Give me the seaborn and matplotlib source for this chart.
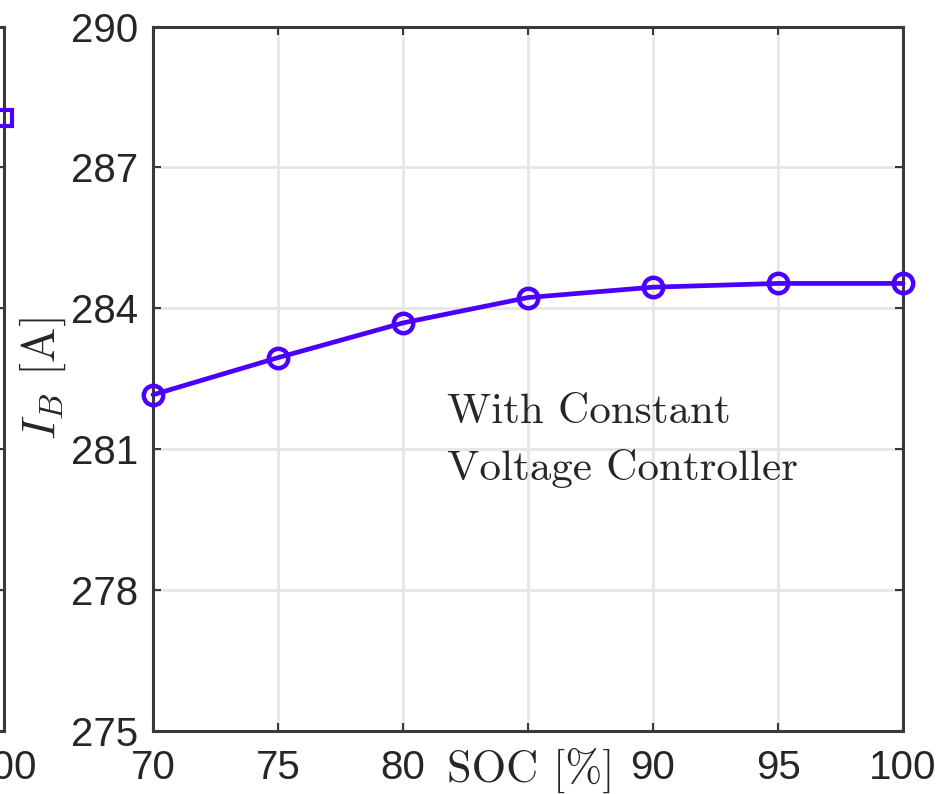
import numpy as np
import pandas as pd
import seaborn as sns
import matplotlib
matplotlib.use("Agg")
import matplotlib.pyplot as plt
from matplotlib import font_manager

# SOC sweep, battery current with constant voltage controller
soc = [70, 75, 80, 85, 90, 95, 100]
ib = [282.16, 282.95, 283.69, 284.23, 284.45, 284.53, 284.53]
# last point of the neighbouring (cut off) subplot
soc_prev = [100]
ib_prev = [288.05]
xticks = [70, 75, 80, 85, 90, 95, 100]
xticklabels = ["70", "75", "80", "", "90", "95", "100"]  # 85 hidden under the xlabel
yticks = [275, 278, 281, 284, 287, 290]

sns.set_theme(style="whitegrid")
plt.rcParams["mathtext.fontset"] = "cm"
plt.rcParams["axes.unicode_minus"] = False

try:
    font_manager.findfont("Liberation Sans Narrow", fallback_to_default=False)
    tickfont, ticksize = "Liberation Sans Narrow", 34
except ValueError:
    tickfont, ticksize = "Liberation Sans", 29

col = "#4b00ff"
axcol = "#3a3a3a"

fig = plt.figure(figsize=(9.4, 7.94), dpi=100)
ax = fig.add_axes([0.1628, 0.0793, 0.7979, 0.8873])
ax0 = fig.add_axes([0.00426 - 0.7979, 0.0793, 0.7979, 0.8873])


def style(a):
    a.set_xlim(70, 100)
    a.set_ylim(275, 290)
    a.set_xticks(xticks)
    a.set_xticklabels(xticklabels)
    a.set_yticks(yticks)
    a.grid(True, color="#e6e6e6", lw=2)
    a.set_facecolor("white")
    for s in a.spines.values():
        s.set_visible(True)
        s.set_color(axcol)
        s.set_linewidth(2.2)
    a.tick_params(axis="both", which="major", direction="in", length=6, width=1.5,
                  colors=axcol, labelcolor="#262626", labelsize=ticksize,
                  labelfontfamily=tickfont, bottom=True, left=True, top=True, right=True,
                  labeltop=False, labelright=False)
    a.tick_params(axis="x", pad=13)
    a.tick_params(axis="y", pad=10.5)


style(ax0)
style(ax)

sns.lineplot(x=soc_prev, y=ib_prev, ax=ax0, color=col, marker="s", markersize=12,
             markerfacecolor="none", markeredgecolor=col, markeredgewidth=3,
             lw=3.4, clip_on=False, zorder=5)
sns.lineplot(x=soc, y=ib, ax=ax, color=col, marker="o", markersize=14,
             markerfacecolor="none", markeredgecolor=col, markeredgewidth=3.2,
             lw=3.4, clip_on=False, zorder=5)

ax0.set_xlabel("")
ax0.set_ylabel("")

ax.set_xlabel("SOC [%]", family="cmr10", fontsize=32, color="#262626")
ax.xaxis.set_label_coords(0.503, -0.024)
ax.xaxis.label.set_va("top")
ax.set_ylabel(r"$I_B$ [A]", family="cmr10", fontsize=34, color="#262626")
ax.yaxis.set_label_coords(-0.147, 0.5)
ax.yaxis.label.set_va("center")

ax.text(81.76, 281.56, "With Constant", family="cmr10", fontsize=31,
        color="#262626", ha="left", va="baseline")
ax.text(81.76, 280.35, "Voltage Controller", family="cmr10", fontsize=31,
        color="#262626", ha="left", va="baseline")

fig.savefig("out.png", dpi=100)
